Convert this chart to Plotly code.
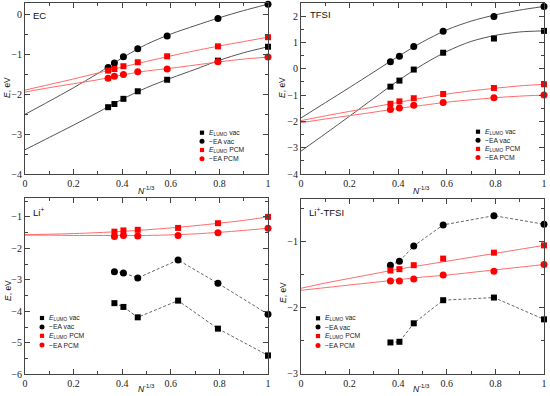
import plotly.graph_objects as go

# ---------------- data ----------------
x_ec = [0.342, 0.368, 0.405, 0.464, 0.585, 0.794, 1.0]
ec_lumo_vac = [-2.32, -2.24, -2.11, -1.92, -1.63, -1.15, -0.80]
ec_ea_vac = [-1.32, -1.21, -1.05, -0.85, -0.53, -0.09, 0.27]
ec_lumo_pcm = [-1.40, -1.36, -1.29, -1.19, -1.04, -0.79, -0.56]
ec_ea_pcm = [-1.59, -1.54, -1.50, -1.43, -1.36, -1.18, -1.06]

x_tfsi = [0.368, 0.405, 0.464, 0.585, 0.794, 1.0]
tfsi_lumo_vac = [-0.68, -0.45, -0.03, 0.61, 1.15, 1.44]
tfsi_ea_vac = [0.27, 0.48, 0.85, 1.43, 1.99, 2.37]
tfsi_lumo_pcm = [-1.33, -1.24, -1.12, -0.96, -0.73, -0.59]
tfsi_ea_pcm = [-1.55, -1.49, -1.39, -1.28, -1.10, -1.00]

x_li = [0.368, 0.405, 0.464, 0.630, 0.794, 1.0]
li_lumo_vac = [-3.74, -3.86, -4.19, -3.66, -4.55, -5.40]
li_ea_vac = [-2.74, -2.78, -2.94, -2.37, -3.11, -4.09]
li_lumo_pcm = [-1.47, -1.43, -1.41, -1.35, -1.20, -1.00]
li_ea_pcm = [-1.62, -1.59, -1.61, -1.59, -1.50, -1.36]

x_litfsi = [0.368, 0.405, 0.464, 0.585, 0.794, 1.0]
litfsi_lumo_vac = [-2.53, -2.52, -2.24, -1.89, -1.85, -2.18]
litfsi_ea_vac = [-1.36, -1.30, -1.07, -0.75, -0.61, -0.74]
litfsi_lumo_pcm = [-1.44, -1.42, -1.36, -1.26, -1.17, -1.06]
litfsi_ea_pcm = [-1.60, -1.60, -1.57, -1.51, -1.45, -1.35]

# fitted curves at these abscissae
fit_x = [0.0, 0.1, 0.2, 0.3, 0.4, 0.5, 0.6, 0.7, 0.8, 0.9, 1.0]
ec_fit_lumo_vac = [-3.39, -3.08, -2.77, -2.45, -2.12, -1.83, -1.59, -1.37, -1.14, -0.95, -0.80]
ec_fit_ea_vac = [-2.50, -2.17, -1.83, -1.47, -1.08, -0.74, -0.48, -0.27, -0.07, 0.11, 0.27]
ec_fit_lumo_pcm = [-1.89, -1.75, -1.61, -1.46, -1.31, -1.17, -1.03, -0.90, -0.78, -0.67, -0.56]
ec_fit_ea_pcm = [-1.94, -1.83, -1.73, -1.63, -1.51, -1.41, -1.34, -1.26, -1.18, -1.11, -1.06]

tfsi_fit_lumo_vac = [-3.13, -2.47, -1.80, -1.12, -0.45, 0.15, 0.66, 1.04, 1.27, 1.40, 1.44]
tfsi_fit_ea_vac = [-1.87, -1.29, -0.71, -0.12, 0.47, 1.02, 1.48, 1.81, 2.05, 2.23, 2.37]
tfsi_fit_lumo_pcm = [-1.97, -1.79, -1.62, -1.45, -1.28, -1.11, -0.96, -0.84, -0.74, -0.65, -0.59]
tfsi_fit_ea_pcm = [-2.05, -1.91, -1.78, -1.65, -1.51, -1.39, -1.27, -1.18, -1.10, -1.04, -1.00]

li_fit_lumo_pcm = [-1.56, -1.55, -1.53, -1.50, -1.46, -1.41, -1.35, -1.28, -1.20, -1.11, -1.00]
li_fit_ea_pcm = [-1.58, -1.58, -1.59, -1.59, -1.59, -1.59, -1.57, -1.54, -1.49, -1.43, -1.36]

litfsi_fit_lumo_pcm = [-1.71, -1.63, -1.56, -1.49, -1.42, -1.36, -1.30, -1.24, -1.18, -1.12, -1.06]
litfsi_fit_ea_pcm = [-1.74, -1.70, -1.66, -1.62, -1.58, -1.54, -1.51, -1.47, -1.43, -1.39, -1.35]

x_ticks = [0, 0.2, 0.4, 0.6, 0.8, 1]
x_tick_text = ["0", "0.2", "0.4", "0.6", "0.8", "1"]
legend_names = ["<i>E</i><sub>LUMO</sub> vac", "\u2212EA vac",
                "<i>E</i><sub>LUMO</sub> PCM", "\u2212EA PCM"]
panel_names = ["EC", "TFSI", "Li<sup>+</sup>", "Li<sup>+</sup>-TFSI"]

# ---------------- styling ----------------
W, H = 550, 396
BLACK = "#000000"
RED = "#ff0000"
FIT_BLACK = "#555555"
FIT_RED = "#ff6b6b"
AXC = "#444444"
SERIF = "Liberation Serif, Times New Roman, serif"
SANS = "Liberation Sans, Arial, sans-serif"

panels = [
    dict(xd=(25, 268), yd=(3, 174), yr=(-4, 0.3), yt=[-4, -3, -2, -1, 0],
         x=x_ec, data=[ec_lumo_vac, ec_ea_vac, ec_lumo_pcm, ec_ea_pcm],
         fits=[ec_fit_lumo_vac, ec_fit_ea_vac, ec_fit_lumo_pcm, ec_fit_ea_pcm],
         dashed=False, leg=(202, [132.7, 141.3, 150.0, 158.7]),
         lab=(31, 15.5), ytitle=(7, 88), xtitle=(146, 190)),
    dict(xd=(301, 544), yd=(3, 174), yr=(-4, 2.5), yt=[-4, -3, -2, -1, 0, 1, 2],
         x=x_tfsi, data=[tfsi_lumo_vac, tfsi_ea_vac, tfsi_lumo_pcm, tfsi_ea_pcm],
         fits=[tfsi_fit_lumo_vac, tfsi_fit_ea_vac, tfsi_fit_lumo_pcm, tfsi_fit_ea_pcm],
         dashed=False, leg=(478, [131.7, 140.3, 148.9, 157.5]),
         lab=(308, 14), ytitle=(282, 88), xtitle=(422, 190)),
    dict(xd=(25, 268), yd=(198, 374.3), yr=(-6, -0.4), yt=[-6, -5, -4, -3, -2, -1],
         x=x_li, data=[li_lumo_vac, li_ea_vac, li_lumo_pcm, li_ea_pcm],
         fits=[None, None, li_fit_lumo_pcm, li_fit_ea_pcm],
         dashed=True, leg=(42, [318.0, 326.9, 335.8, 345.0]),
         lab=(31, 212), ytitle=(8, 291), xtitle=(146, 388.5)),
    dict(xd=(301, 544), yd=(198.5, 373.5), yr=(-3, -0.35), yt=[-3, -2, -1],
         x=x_litfsi, data=[litfsi_lumo_vac, litfsi_ea_vac, litfsi_lumo_pcm, litfsi_ea_pcm],
         fits=[None, None, litfsi_fit_lumo_pcm, litfsi_fit_ea_pcm],
         dashed=True, leg=(318, [318.3, 327.0, 336.0, 345.5]),
         lab=(307, 212), ytitle=(283, 293), xtitle=(422, 388.5)),
]

colors = [BLACK, BLACK, RED, RED]
symbols = ["square", "circle", "square", "circle"]
sizes = [6, 7, 6, 7]

fig = go.Figure()
layout = dict(width=W, height=H, margin=dict(l=0, r=0, t=0, b=0, autoexpand=False),
              paper_bgcolor="white", plot_bgcolor="white", showlegend=False,
              template="none")
annotations = []
shapes = []

def px_x(p):
    return p / W

def px_y(p):
    return 1 - p / H

for i, p in enumerate(panels):
    k = "" if i == 0 else str(i + 1)
    xa, ya = "x" + k, "y" + k
    # fit curves first (under markers)
    for j in range(4):
        f = p["fits"][j]
        if f is not None:
            fig.add_trace(go.Scatter(
                x=fit_x, y=f, mode="lines", xaxis=xa, yaxis=ya,
                line=dict(color=FIT_BLACK if j < 2 else FIT_RED, width=1,
                          shape="spline", smoothing=0.8),
                hoverinfo="skip"))
    # connecting dashed lines for vac series
    if p["dashed"]:
        for j in range(2):
            fig.add_trace(go.Scatter(
                x=p["x"], y=p["data"][j], mode="lines", xaxis=xa, yaxis=ya,
                line=dict(color="#555555", width=0.9, dash="3px,2px"),
                hoverinfo="skip"))
    # markers
    for j in range(4):
        fig.add_trace(go.Scatter(
            x=p["x"], y=p["data"][j], mode="markers", xaxis=xa, yaxis=ya,
            name=legend_names[j], cliponaxis=False,
            marker=dict(color=colors[j], symbol=symbols[j], size=sizes[j],
                        line=dict(width=0))))

    common = dict(showline=True, linecolor=AXC, linewidth=1, mirror="allticks",
                  ticks="inside", ticklen=5, tickwidth=1, tickcolor=AXC,
                  showgrid=False, zeroline=False, automargin=False,
                  tickfont=dict(family=SERIF, size=10, color="#222222"))
    layout["xaxis" + k] = dict(
        common, domain=[px_x(p["xd"][0]), px_x(p["xd"][1])], range=[0, 1],
        anchor=ya, tickvals=x_ticks, ticktext=x_tick_text,
        minor=dict(tickvals=[0.1, 0.3, 0.5, 0.7, 0.9], ticklen=3,
                   tickcolor=AXC, ticks="inside"))
    yminor = [v + 0.5 for v in p["yt"] if v + 0.5 < p["yr"][1]]
    layout["yaxis" + k] = dict(
        common, domain=[px_y(p["yd"][1]), px_y(p["yd"][0])], range=list(p["yr"]),
        anchor=xa, tickvals=p["yt"], ticktext=[("\u2212" + str(-v)) if v < 0 else str(v) for v in p["yt"]],
        minor=dict(tickvals=yminor, ticklen=3, tickcolor=AXC, ticks="inside"))

    # panel label
    annotations.append(dict(x=px_x(p["lab"][0]), y=px_y(p["lab"][1]), xref="paper", yref="paper",
                            text=panel_names[i], showarrow=False, xanchor="left", yanchor="middle",
                            font=dict(family=SANS, size=9.5, color="#111111")))
    # axis titles
    annotations.append(dict(x=px_x(p["xtitle"][0]), y=px_y(p["xtitle"][1]), xref="paper", yref="paper",
                            text="<i>N</i><sup>-1/3</sup>", showarrow=False, xanchor="center",
                            yanchor="middle", font=dict(family=SANS, size=8.5, color="#111111")))
    annotations.append(dict(x=px_x(p["ytitle"][0]), y=px_y(p["ytitle"][1]), xref="paper", yref="paper",
                            text="<i>E</i>, eV", showarrow=False, textangle=-90, xanchor="center",
                            yanchor="middle", font=dict(family=SANS, size=8.5, color="#111111")))
    # legend
    mx, rows = p["leg"]
    for j in range(4):
        py = rows[j]
        r = 2.1 if symbols[j] == "square" else 2.5
        shapes.append(dict(type="rect" if symbols[j] == "square" else "circle",
                           xref="paper", yref="paper",
                           x0=px_x(mx - r), x1=px_x(mx + r), y0=px_y(py + r), y1=px_y(py - r),
                           fillcolor=colors[j], line=dict(width=0)))
        annotations.append(dict(x=px_x(mx + 5), y=px_y(py), xref="paper", yref="paper",
                                text=legend_names[j], showarrow=False, xanchor="left",
                                yanchor="middle", font=dict(family=SANS, size=6.8, color="#222222")))

layout["annotations"] = annotations
layout["shapes"] = shapes
fig.update_layout(**layout)
fig.write_html("out.html", config={"displayModeBar": False},
               post_script="document.body.style.margin='0';document.body.style.padding='0';")
